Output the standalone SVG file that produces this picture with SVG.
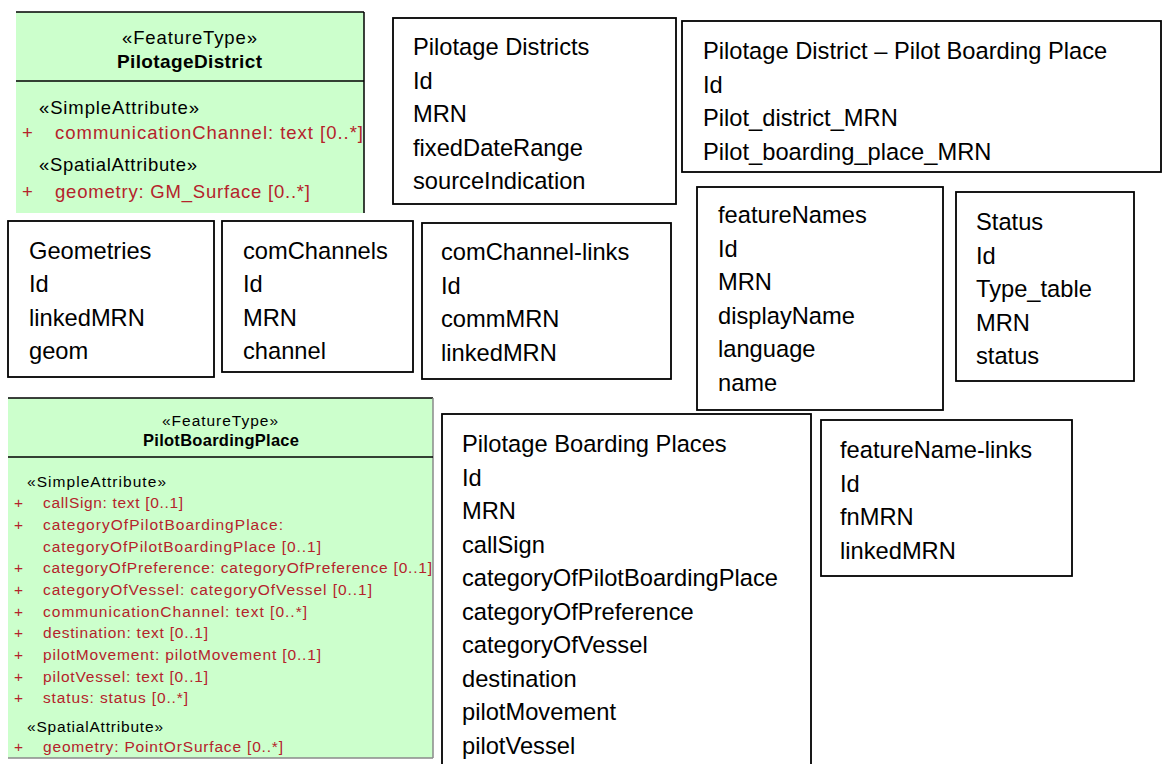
<svg xmlns="http://www.w3.org/2000/svg" width="1163" height="764" viewBox="0 0 1163 764">
<style>
.bg{fill:#ffffff}
.box{fill:#ffffff;stroke:#000;stroke-width:1.8}
.t{font-family:"Liberation Sans",Arial,sans-serif;font-size:23.7px;fill:#000}
.uml{fill:#ccffcc}
.ln{stroke:#000;stroke-width:1.5}
.lg{stroke:#8a8a8a;stroke-width:1.5}
.u1{font-family:"Liberation Sans",Arial,sans-serif;font-size:18.5px;fill:#000}
.u1b{font-family:"Liberation Sans",Arial,sans-serif;font-size:19px;font-weight:bold;fill:#000}
.u2{font-family:"Liberation Sans",Arial,sans-serif;font-size:15.5px;fill:#000}
.u2b{font-family:"Liberation Sans",Arial,sans-serif;font-size:16.5px;font-weight:bold;fill:#000}
.red{fill:#b5232b}
</style>
<rect class="bg" x="0" y="0" width="1163" height="764"/>

<g id="uml-pilotage-district">
<rect class="uml" x="16" y="12" width="348" height="201"/>
<line class="ln" x1="16" y1="12" x2="364" y2="12"/>
<line class="ln" x1="364" y1="12" x2="364" y2="213"/>
<line class="ln" x1="16" y1="81" x2="364" y2="81"/>
<text class="u1" x="189.5" y="44" text-anchor="middle" textLength="135" lengthAdjust="spacing">«FeatureType»</text>
<text class="u1b" x="189.5" y="68" text-anchor="middle" textLength="145" lengthAdjust="spacing">PilotageDistrict</text>
<text class="u1" x="39" y="114" textLength="160" lengthAdjust="spacing">«SimpleAttribute»</text>
<text class="u1 red" x="22" y="139">+</text>
<text class="u1 red" x="55" y="139" textLength="308" lengthAdjust="spacing">communicationChannel: text [0..*]</text>
<text class="u1" x="39" y="171" textLength="158" lengthAdjust="spacing">«SpatialAttribute»</text>
<text class="u1 red" x="22" y="198">+</text>
<text class="u1 red" x="55" y="198" textLength="255" lengthAdjust="spacing">geometry: GM_Surface [0..*]</text>
</g>

<g id="pilotage-districts">
<rect class="box" x="393" y="18" width="283" height="186"/>
<text class="t" x="413" y="55">Pilotage Districts</text>
<text class="t" x="413" y="88.5">Id</text>
<text class="t" x="413" y="122">MRN</text>
<text class="t" x="413" y="155.5">fixedDateRange</text>
<text class="t" x="413" y="189">sourceIndication</text>
</g>

<g id="district-boarding-place">
<rect class="box" x="682" y="21" width="479" height="151"/>
<text class="t" x="703" y="59">Pilotage District – Pilot Boarding Place</text>
<text class="t" x="703" y="92.5">Id</text>
<text class="t" x="703" y="126">Pilot_district_MRN</text>
<text class="t" x="703" y="159.5">Pilot_boarding_place_MRN</text>
</g>

<g id="geometries">
<rect class="box" x="8" y="221" width="206" height="156"/>
<text class="t" x="29" y="258.5">Geometries</text>
<text class="t" x="29" y="292">Id</text>
<text class="t" x="29" y="325.5">linkedMRN</text>
<text class="t" x="29" y="359">geom</text>
</g>

<g id="comchannels">
<rect class="box" x="222" y="221" width="191" height="151"/>
<text class="t" x="243" y="258.5">comChannels</text>
<text class="t" x="243" y="292">Id</text>
<text class="t" x="243" y="325.5">MRN</text>
<text class="t" x="243" y="359">channel</text>
</g>

<g id="comchannel-links">
<rect class="box" x="422" y="223" width="249" height="156"/>
<text class="t" x="441" y="260">comChannel-links</text>
<text class="t" x="441" y="293.5">Id</text>
<text class="t" x="441" y="327">commMRN</text>
<text class="t" x="441" y="360.5">linkedMRN</text>
</g>

<g id="featurenames">
<rect class="box" x="697" y="187" width="246" height="223"/>
<text class="t" x="718" y="223">featureNames</text>
<text class="t" x="718" y="256.5">Id</text>
<text class="t" x="718" y="290">MRN</text>
<text class="t" x="718" y="323.5">displayName</text>
<text class="t" x="718" y="357">language</text>
<text class="t" x="718" y="390.5">name</text>
</g>

<g id="status">
<rect class="box" x="956" y="192" width="178" height="189"/>
<text class="t" x="976" y="230">Status</text>
<text class="t" x="976" y="263.5">Id</text>
<text class="t" x="976" y="297">Type_table</text>
<text class="t" x="976" y="330.5">MRN</text>
<text class="t" x="976" y="364">status</text>
</g>

<g id="uml-pilot-boarding-place">
<rect class="uml" x="8" y="398" width="425" height="360"/>
<line class="ln" x1="8" y1="398" x2="433" y2="398"/>
<line class="lg" x1="433" y1="398" x2="433" y2="758"/>
<line class="lg" x1="8" y1="758" x2="433" y2="758"/>
<line class="ln" x1="8" y1="457" x2="433" y2="457"/>
<text class="u2" x="220" y="426" text-anchor="middle" textLength="116" lengthAdjust="spacing">«FeatureType»</text>
<text class="u2b" x="221" y="446" text-anchor="middle" textLength="156" lengthAdjust="spacing">PilotBoardingPlace</text>
<text class="u2" x="27" y="487" textLength="139" lengthAdjust="spacing">«SimpleAttribute»</text>
<text class="u2 red" x="14" y="508">+</text>
<text class="u2 red" x="43" y="508" textLength="140" lengthAdjust="spacing">callSign: text [0..1]</text>
<text class="u2 red" x="14" y="530">+</text>
<text class="u2 red" x="43" y="530" textLength="240" lengthAdjust="spacing">categoryOfPilotBoardingPlace:</text>
<text class="u2 red" x="43" y="552" textLength="278" lengthAdjust="spacing">categoryOfPilotBoardingPlace [0..1]</text>
<text class="u2 red" x="14" y="573">+</text>
<text class="u2 red" x="43" y="573" textLength="389" lengthAdjust="spacing">categoryOfPreference: categoryOfPreference [0..1]</text>
<text class="u2 red" x="14" y="595">+</text>
<text class="u2 red" x="43" y="595" textLength="329" lengthAdjust="spacing">categoryOfVessel: categoryOfVessel [0..1]</text>
<text class="u2 red" x="14" y="617">+</text>
<text class="u2 red" x="43" y="617" textLength="264" lengthAdjust="spacing">communicationChannel: text [0..*]</text>
<text class="u2 red" x="14" y="638">+</text>
<text class="u2 red" x="43" y="638" textLength="165" lengthAdjust="spacing">destination: text [0..1]</text>
<text class="u2 red" x="14" y="660">+</text>
<text class="u2 red" x="43" y="660" textLength="278" lengthAdjust="spacing">pilotMovement: pilotMovement [0..1]</text>
<text class="u2 red" x="14" y="682">+</text>
<text class="u2 red" x="43" y="682" textLength="165" lengthAdjust="spacing">pilotVessel: text [0..1]</text>
<text class="u2 red" x="14" y="703">+</text>
<text class="u2 red" x="43" y="703" textLength="145" lengthAdjust="spacing">status: status [0..*]</text>
<text class="u2" x="27" y="732" textLength="136" lengthAdjust="spacing">«SpatialAttribute»</text>
<text class="u2 red" x="14" y="752">+</text>
<text class="u2 red" x="43" y="752" textLength="240" lengthAdjust="spacing">geometry: PointOrSurface [0..*]</text>
</g>

<g id="pilotage-boarding-places">
<rect class="box" x="442" y="414" width="369" height="360"/>
<text class="t" x="462" y="452">Pilotage Boarding Places</text>
<text class="t" x="462" y="485.5">Id</text>
<text class="t" x="462" y="519">MRN</text>
<text class="t" x="462" y="552.5">callSign</text>
<text class="t" x="462" y="586">categoryOfPilotBoardingPlace</text>
<text class="t" x="462" y="619.5">categoryOfPreference</text>
<text class="t" x="462" y="653">categoryOfVessel</text>
<text class="t" x="462" y="686.5">destination</text>
<text class="t" x="462" y="720">pilotMovement</text>
<text class="t" x="462" y="753.5">pilotVessel</text>
</g>

<g id="featurename-links">
<rect class="box" x="821" y="420" width="251" height="156"/>
<text class="t" x="840" y="458">featureName-links</text>
<text class="t" x="840" y="491.5">Id</text>
<text class="t" x="840" y="525">fnMRN</text>
<text class="t" x="840" y="558.5">linkedMRN</text>
</g>

<g id="connectors"></g>
</svg>
